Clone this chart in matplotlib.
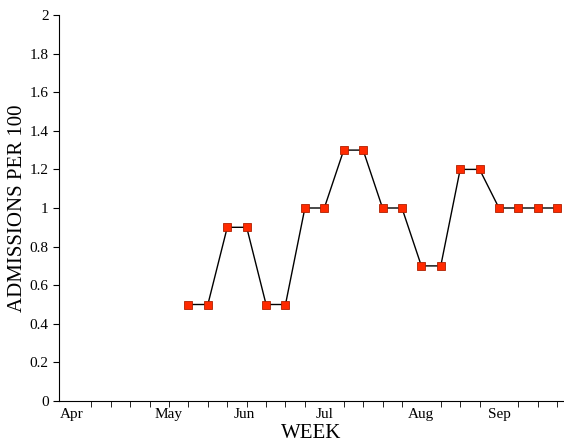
import matplotlib
matplotlib.use("Agg")
import matplotlib.pyplot as plt

weeks = list(range(6, 26))
values = [0.5, 0.5, 0.9, 0.9, 0.5, 0.5, 1.0, 1.0, 1.3, 1.3,
          1.0, 1.0, 0.7, 0.7, 1.2, 1.2, 1.0, 1.0, 1.0, 1.0]
month_labels = ["Apr", "May", "Jun", "Jul", "Aug", "Sep"]
month_pos = [0, 4.95, 8.9, 13, 18, 22]

plt.rcParams["font.family"] = "Liberation Serif"
fig = plt.figure(figsize=(5.64, 4.47), dpi=100)
ax = fig.add_axes([59 / 564, 46 / 447, 505 / 564, 386 / 447])
ax.plot(weeks, values, color="black", linewidth=1, marker="s", markersize=6,
        markerfacecolor="#ff2a00", markeredgecolor="#b02000", markeredgewidth=0.6)
ax.set_xlim(-0.67, 25.35)
ax.set_ylim(0, 2)
ax.set_yticks([i / 10 for i in range(0, 21, 2)])
ax.set_yticklabels(["0", "0.2", "0.4", "0.6", "0.8", "1", "1.2", "1.4", "1.6", "1.8", "2"], fontsize=11)
ax.set_xticks(month_pos)
ax.set_xticklabels(month_labels, fontsize=11)
ax.tick_params(axis="x", which="major", length=0, pad=5)
ax.set_xticks(range(0, 26), minor=True)
ax.tick_params(axis="x", which="minor", length=4, direction="out")
ax.tick_params(axis="y", length=4)
for s in ["top", "right"]:
    ax.spines[s].set_visible(False)
ax.set_xlabel("WEEK", fontsize=15, labelpad=2)
ax.set_ylabel("ADMISSIONS PER 100", fontsize=15, labelpad=2)
fig.savefig("out.png", dpi=100)
